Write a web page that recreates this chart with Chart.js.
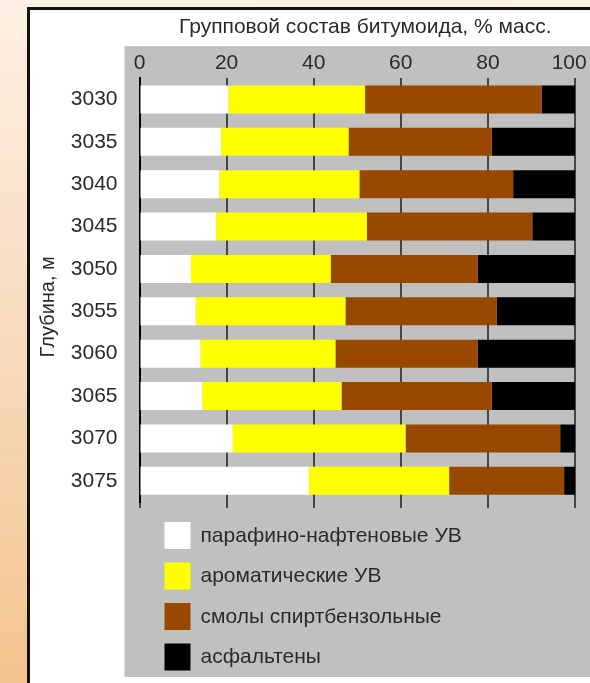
<!DOCTYPE html>
<html>
<head>
<meta charset="utf-8">
<script src="https://cdn.jsdelivr.net/npm/chart.js@4.4.0/dist/chart.umd.min.js"></script>
<style>
  html, body { margin: 0; padding: 0; }
  body {
    width: 590px; height: 683px; overflow: hidden; position: relative;
    background: linear-gradient(to bottom, #fdf0e4 0%, #f8dcc0 45%, #f4c48e 100%);
  }
  .frame {
    position: absolute; left: 27px; top: 7px; width: 600px; height: 700px;
    border-left: 3px solid #111; border-top: 3px solid #111; background: #fff;
  }
  #chart { position: absolute; left: 0; top: 0; }
</style>
</head>
<body>
<div class="frame"></div>
<canvas id="chart" width="590" height="683"></canvas>
<script>
// depth, m
const depths = ['3030', '3035', '3040', '3045', '3050', '3055', '3060', '3065', '3070', '3075'];

// group composition, % mass
const paraffin    = [20.4, 18.7, 18.3, 17.6, 11.8, 12.9, 14.0, 14.4, 21.4, 38.9];
const aromatic    = [31.4, 29.3, 32.2, 34.6, 32.1, 34.4, 31.0, 32.0, 39.7, 32.2];
const resins      = [40.6, 32.9, 35.3, 38.0, 33.8, 34.7, 32.7, 34.5, 35.5, 26.4];
const asphaltenes = [7.6, 19.1, 14.2, 9.8, 22.3, 18.0, 22.3, 19.1, 3.4, 2.5];

const seriesNames = ['парафино-нафтеновые УВ', 'ароматические УВ', 'смолы спиртбензольные', 'асфальтены'];
const seriesColors = ['#ffffff', '#ffff00', '#994800', '#000000'];
const xTicks = [0, 20, 40, 60, 80, 100];

const textColor = '#2a2a2a';
const fontFamily = '"Liberation Sans", Arial, sans-serif';

// gray panel behind plot and legend
const panelBg = {
  id: 'panelBg',
  afterLayout(chart) {
    // title sits a bit right of the plot centre in the original
    if (chart.titleBlock) { chart.titleBlock.left += 8; chart.titleBlock.right += 8; }
  },
  beforeDraw(chart) {
    const { ctx, chartArea } = chart;
    ctx.save();
    ctx.fillStyle = '#c0c0c0';
    const top = chartArea.top - 32;
    ctx.fillRect(chartArea.left - 15, top, chart.width, chartArea.bottom + 175 - top);
    ctx.restore();
  }
};

// legend as a column inside the gray panel
const columnLegend = {
  id: 'columnLegend',
  afterDraw(chart) {
    const { ctx, chartArea } = chart;
    ctx.save();
    chart.data.datasets.forEach((ds, i) => {
      const x = chartArea.left + 25;
      const y = chartArea.bottom + 20 + i * 40.5;
      ctx.fillStyle = ds.backgroundColor;
      ctx.fillRect(x, y, 26, 27);
      ctx.fillStyle = textColor;
      ctx.font = '21px ' + fontFamily;
      ctx.textBaseline = 'middle';
      ctx.textAlign = 'left';
      ctx.fillText(ds.label, x + 36, y + 14);
    });
    ctx.restore();
  }
};

const datasets = [paraffin, aromatic, resins, asphaltenes].map((values, i) => ({
  label: seriesNames[i],
  data: values,
  backgroundColor: seriesColors[i],
  borderWidth: 0,
  barPercentage: 0.66,
  categoryPercentage: 1
}));

new Chart(document.getElementById('chart'), {
  type: 'bar',
  data: { labels: depths, datasets },
  plugins: [panelBg, columnLegend],
  options: {
    indexAxis: 'y',
    responsive: false,
    animation: false,
    devicePixelRatio: 1,
    layout: { padding: { left: 28, right: 15, top: 0, bottom: 0 } },
    scales: {
      x: {
        position: 'top',
        stacked: true,
        min: 0,
        max: 100,
        afterBuildTicks: scale => { scale.ticks = xTicks.map(v => ({ value: v })); },
        afterFit: scale => { scale.height = 28; scale.paddingLeft = 0; scale.paddingRight = 0; },
        ticks: {
          padding: 2,
          color: textColor,
          font: { family: fontFamily, size: 21 },
          // last label is pulled in a little so it stays inside the frame
          callback: value => (value === 100 ? '100  ' : String(value))
        },
        grid: { color: '#454545', lineWidth: 2, drawTicks: false },
        border: { display: false }
      },
      x2: {
        position: 'bottom',
        min: 0,
        max: 100,
        afterBuildTicks: scale => { scale.ticks = xTicks.map(v => ({ value: v })); },
        afterFit: scale => { scale.height = 181; },
        ticks: { display: false },
        grid: { drawOnChartArea: false, drawTicks: true, tickLength: 6, color: '#454545', lineWidth: 2 },
        border: { display: false }
      },
      y: {
        stacked: true,
        afterFit: scale => { scale.width = 111.5; },
        ticks: {
          padding: 22,
          color: textColor,
          font: { family: fontFamily, size: 21 }
        },
        grid: { display: false, drawTicks: false },
        border: { display: true, color: '#000', width: 2 },
        title: {
          display: true,
          text: 'Глубина, м      ',
          color: textColor,
          padding: { top: 8, bottom: 0 },
          font: { family: fontFamily, size: 20 }
        }
      }
    },
    plugins: {
      legend: { display: false },
      tooltip: { enabled: false },
      title: {
        display: true,
        fullSize: false,
        text: 'Групповой состав битумоида, % масс.',
        color: textColor,
        padding: { top: 15, bottom: 10 },
        font: { family: fontFamily, size: 21, weight: 'normal' }
      }
    }
  }
});
</script>
</body>
</html>
